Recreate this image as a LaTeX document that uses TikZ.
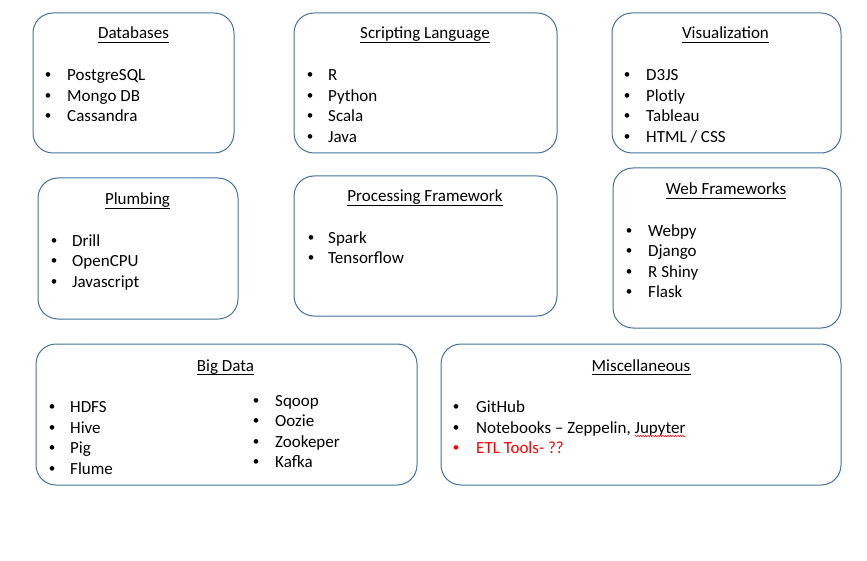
\documentclass[tikz,border=0pt]{standalone}
\usepackage{fontspec}
\setmainfont{Carlito}
\newfontfamily\bulfont{Liberation Sans}
\usetikzlibrary{decorations.pathmorphing}
\definecolor{boxblue}{HTML}{41719C}
\definecolor{etlred}{HTML}{FF0000}
\newcommand\bitem[6][black]{%
  \node[bul,text=#1] (#2b) at (#3,#5+1) {•};
  \node[txt,text=#1] (#2) at (#4,#5+1) {#6};}
\newcommand\btitle[4]{%
  \node[ttl] (#1) at (#2,#3+1.5) {#4};
  \draw[line width=0.9pt] ([yshift=-3.5pt]#1.base west) -- ([yshift=-3.5pt]#1.base east);}
\begin{document}
\begin{tikzpicture}[x=1pt,y=-1pt,
  box/.style={draw=boxblue, line width=1pt, rounded corners=20pt, inner sep=0pt},
  txt/.style={inner sep=0pt, anchor=base west, font=\fontsize{17}{20}\selectfont},
  ttl/.style={inner sep=0pt, anchor=base, font=\fontsize{17}{20}\selectfont},
  bul/.style={inner sep=0pt, anchor=base, font=\bulfont\fontsize{17}{20}\selectfont}]
\useasboundingbox (0,0) rectangle (867,561);

% boxes
\node[box, minimum width=201pt, minimum height=140pt] (db)   at (133.5,83) {};
\node[box, minimum width=263pt, minimum height=140pt] (scr)  at (425.5,83) {};
\node[box, minimum width=229pt, minimum height=140pt] (vis)  at (726.5,83) {};
\node[box, minimum width=200pt, minimum height=141pt] (plb)  at (138,248.5) {};
\node[box, minimum width=263pt, minimum height=140pt] (proc) at (425.5,246) {};
\node[box, minimum width=228pt, minimum height=160pt] (web)  at (727,248) {};
\node[box, minimum width=381pt, minimum height=141pt] (big)  at (226.5,414.5) {};
\node[box, minimum width=400pt, minimum height=141pt] (misc) at (641,414.5) {};

% Databases
\btitle{dbT}{133.5}{37.5}{Databases}
\bitem{db1}{48}{67}{80}{PostgreSQL}
\bitem{db2}{48}{67}{100.5}{Mongo DB}
\bitem{db3}{48}{67}{121}{Cassandra}

% Scripting Language
\btitle{scrT}{425}{37.5}{Scripting Language}
\bitem{scr1}{310}{328}{80}{R}
\bitem{scr2}{310}{328}{100.5}{Python}
\bitem{scr3}{310}{328}{121}{Scala}
\bitem{scr4}{310}{328}{141.5}{Java}

% Visualization
\btitle{visT}{725.5}{37.5}{Visualization}
\bitem{vis1}{627}{646}{80}{D3JS}
\bitem{vis2}{627}{646}{100.5}{Plotly}
\bitem{vis3}{627}{646}{121}{Tableau}
\bitem{vis4}{627}{646}{141.5}{HTML / CSS}

% Plumbing
\btitle{plbT}{137.5}{203}{Plumbing}
\bitem{plb1}{54}{72}{245.5}{Drill}
\bitem{plb2}{54}{72}{266}{OpenCPU}
\bitem{plb3}{54}{72}{286.5}{Javascript}

% Processing Framework
\btitle{procT}{425}{200.5}{Processing Framework}
\bitem{proc1}{311}{328}{242.5}{Spark}
\bitem{proc2}{311}{328}{263}{Tensorflow}

% Web Frameworks
\btitle{webT}{726}{193.5}{Web Frameworks}
\bitem{web1}{629}{648}{235.5}{Webpy}
\bitem{web2}{629}{648}{256}{Django}
\bitem{web3}{629}{648}{276.5}{R Shiny}
\bitem{web4}{629}{648}{297}{Flask}

% Big Data
\btitle{bigT}{225.5}{369.5}{Big Data}
\bitem{big1}{52}{70}{411.5}{HDFS}
\bitem{big2}{52}{70}{432}{Hive}
\bitem{big3}{52}{70}{452.5}{Pig}
\bitem{big4}{52}{70}{473}{Flume}
\bitem{big5}{256}{275}{405}{Sqoop}
\bitem{big6}{256}{275}{425.5}{Oozie}
\bitem{big7}{256}{275}{446}{Zookeper}
\bitem{big8}{256}{275}{466.5}{Kafka}

% Miscellaneous
\btitle{miscT}{641}{369.5}{Miscellaneous}
\bitem{misc1}{456}{476}{411.5}{GitHub}
\bitem{misc2}{456}{476}{432}{Notebooks – Zeppelin, Jupyter}
\bitem[etlred]{misc3}{456}{476}{452.5}{ETL Tools- ??}
\draw[etlred, line width=0.5pt, decorate,
      decoration={snake, amplitude=0.7pt, segment length=2.5pt}]
  ([xshift=-51pt,yshift=-3pt]misc2.base east) -- ([yshift=-3pt]misc2.base east);
\end{tikzpicture}
\end{document}
